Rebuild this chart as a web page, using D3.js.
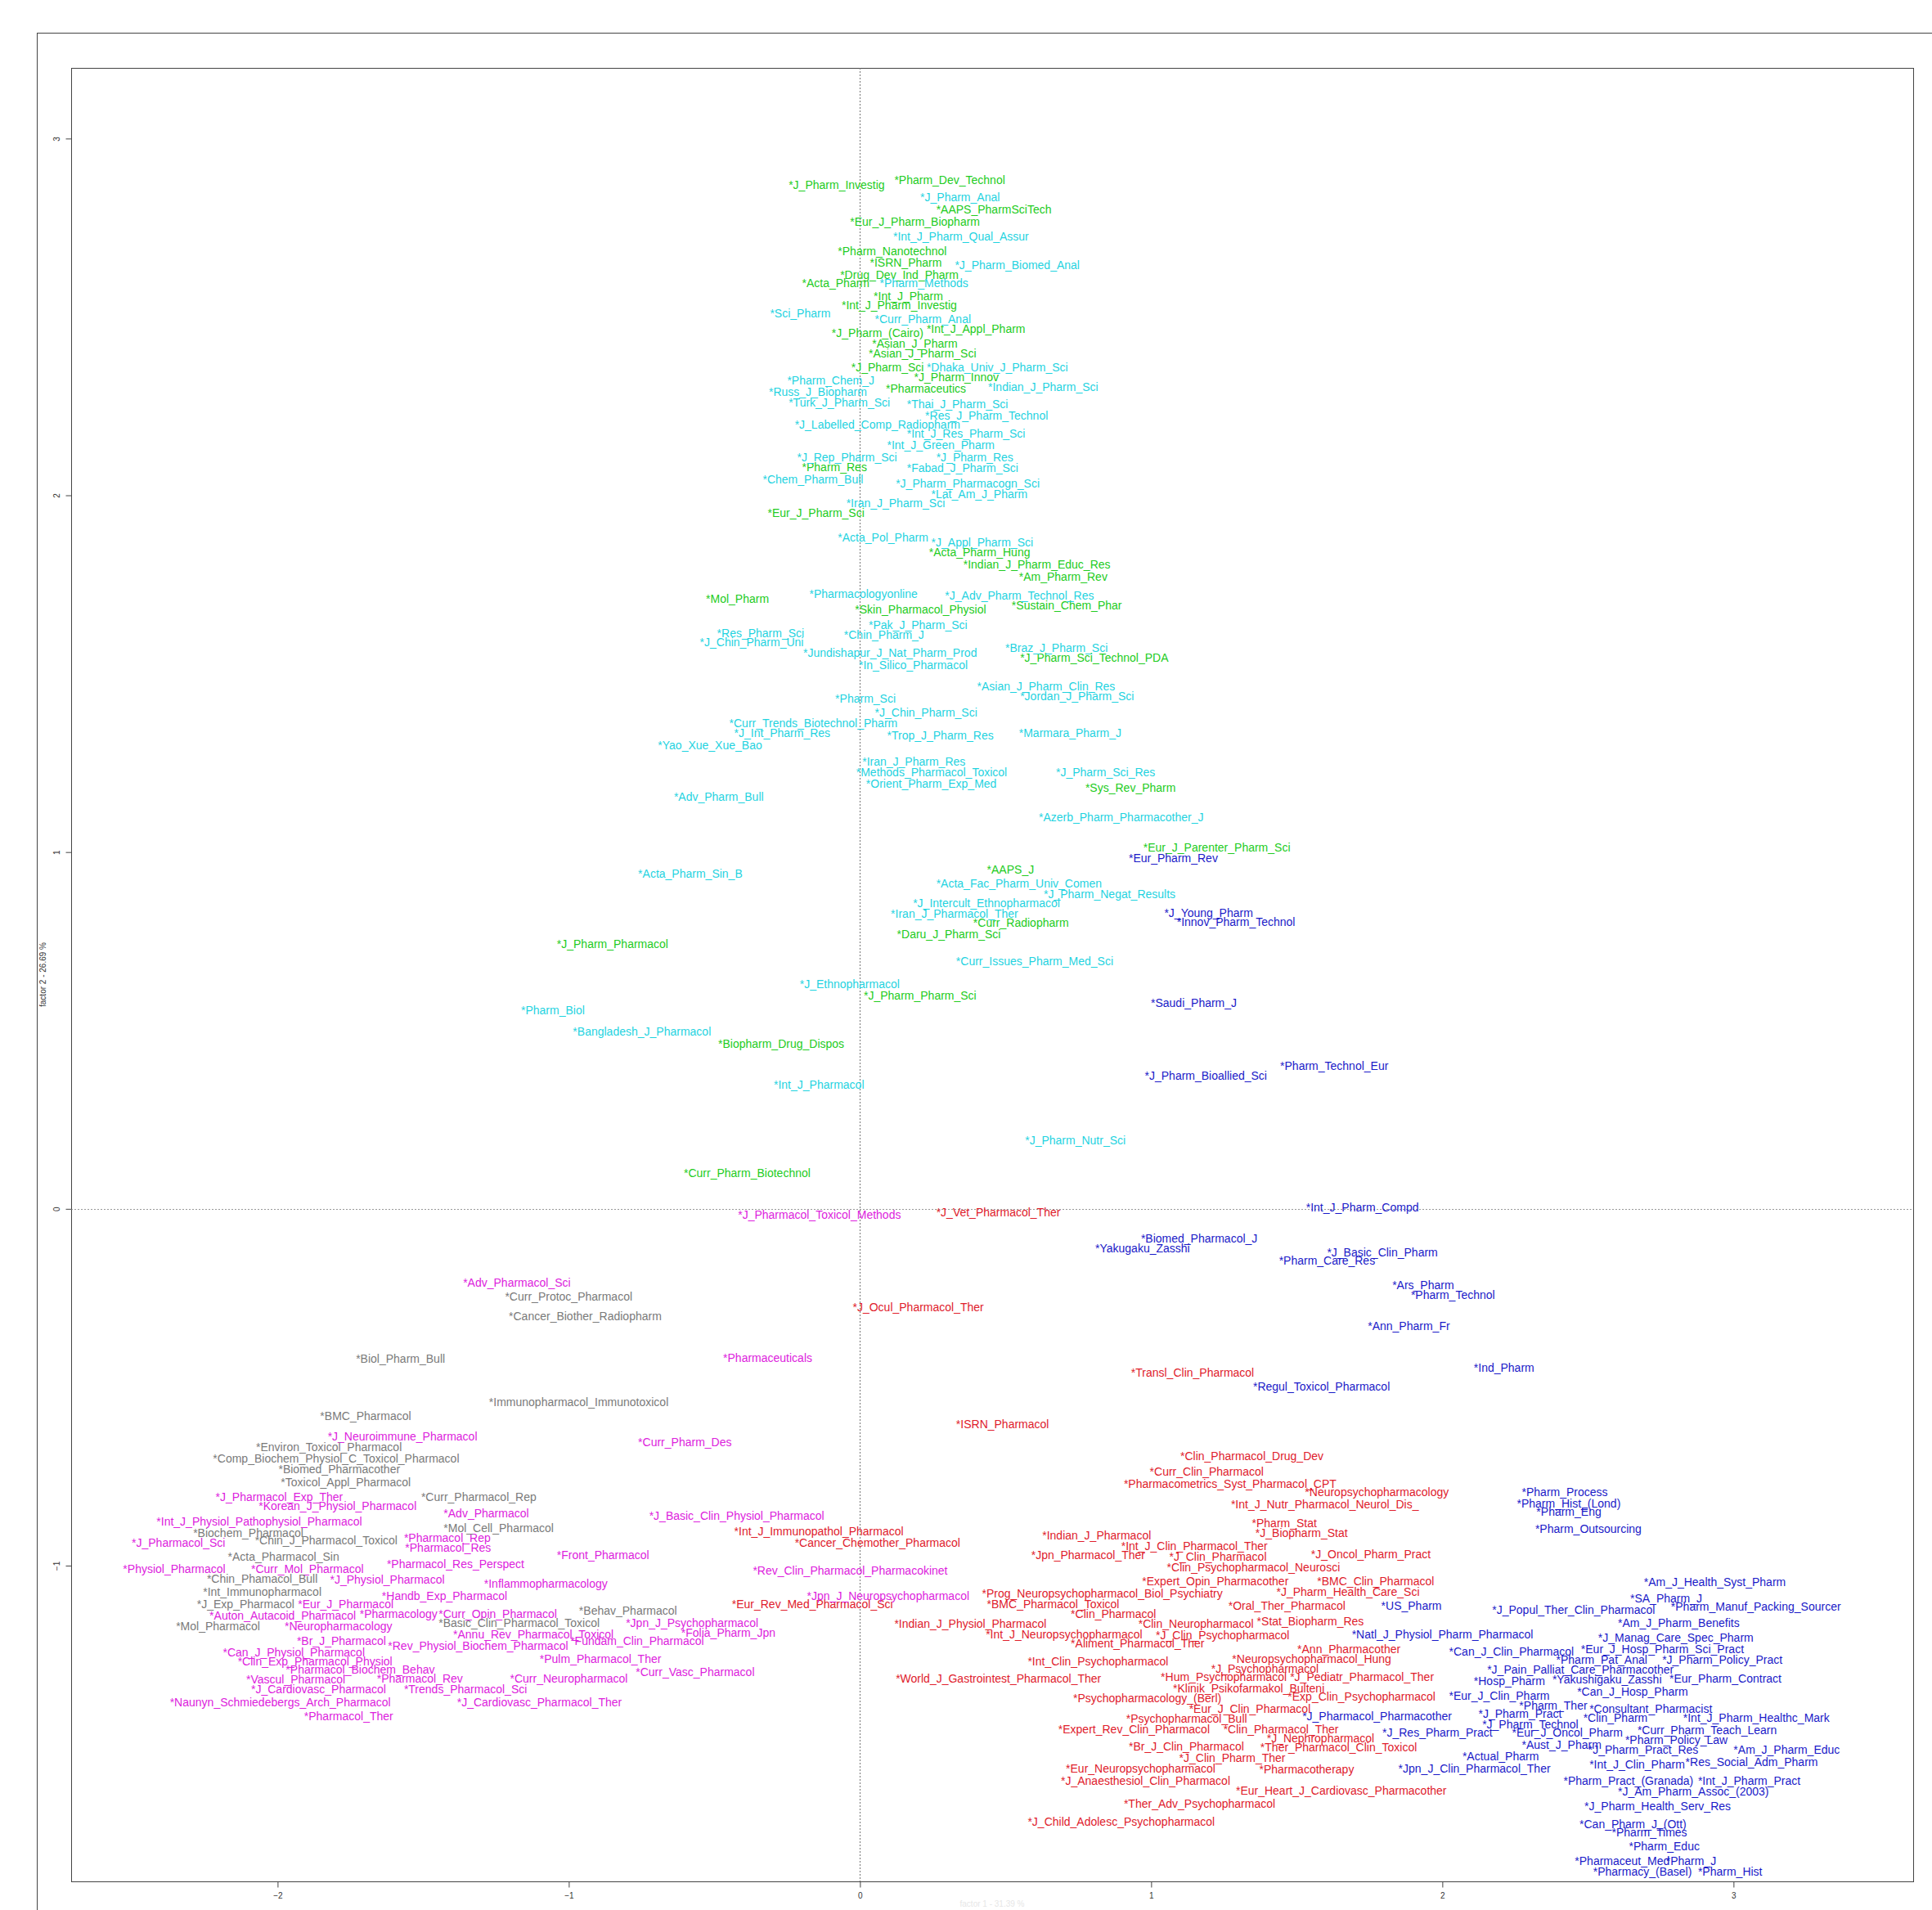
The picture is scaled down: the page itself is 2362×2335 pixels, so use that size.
<!DOCTYPE html>
<html><head><meta charset="utf-8">
<script src="https://cdn.jsdelivr.net/npm/d3@7"></script>
<style>body{margin:0;background:#fff} svg{display:block}</style>
</head><body>
<script>
// [label, factor1, factor2]
const greenJournals = [
["J_Pharm_Investig",-0.245,2.870],["Pharm_Dev_Technol",0.118,2.884],["AAPS_PharmSciTech",0.262,2.801],
["Eur_J_Pharm_Biopharm",-0.034,2.767],["Pharm_Nanotechnol",-0.076,2.684],["ISRN_Pharm",0.034,2.653],
["Drug_Dev_Ind_Pharm",-0.068,2.618],["Acta_Pharm",-0.199,2.594],["Int_J_Pharm",0.047,2.559],
["Int_J_Pharm_Investig",-0.063,2.532],["J_Pharm_(Cairo)",-0.097,2.456],["Int_J_Appl_Pharm",0.229,2.466],
["Asian_J_Pharm",0.042,2.425],["Asian_J_Pharm_Sci",0.030,2.397],["J_Pharm_Sci",-0.030,2.359],
["J_Pharm_Innov",0.186,2.331],["Pharmaceutics",0.089,2.300],["Pharm_Res",-0.199,2.079],
["Eur_J_Pharm_Sci",-0.317,1.951],["Acta_Pharm_Hung",0.237,1.841],["Indian_J_Pharm_Educ_Res",0.355,1.806],
["Am_Pharm_Rev",0.546,1.772],["Mol_Pharm",-0.529,1.710],["Sustain_Chem_Phar",0.521,1.692],
["Skin_Pharmacol_Physiol",-0.017,1.679],["J_Pharm_Sci_Technol_PDA",0.550,1.544],["Sys_Rev_Pharm",0.774,1.181],
["Eur_J_Parenter_Pharm_Sci",0.973,1.012],["AAPS_J",0.436,0.950],["Curr_Radiopharm",0.389,0.801],
["Daru_J_Pharm_Sci",0.127,0.770],["J_Pharm_Pharmacol",-1.041,0.743],["J_Pharm_Pharm_Sci",0.013,0.598],
["Biopharm_Drug_Dispos",-0.487,0.463],["Curr_Pharm_Biotechnol",-0.605,0.100]
];
const cyanJournals = [
["J_Pharm_Anal",0.207,2.836],["Int_J_Pharm_Qual_Assur",0.114,2.725],["J_Pharm_Biomed_Anal",0.326,2.646],
["Pharm_Methods",0.068,2.594],["Sci_Pharm",-0.309,2.511],["Curr_Pharm_Anal",0.051,2.494],
["Dhaka_Univ_J_Pharm_Sci",0.229,2.359],["Pharm_Chem_J",-0.250,2.321],["Russ_J_Biopharm",-0.313,2.290],
["Indian_J_Pharm_Sci",0.440,2.304],["Turk_J_Pharm_Sci",-0.245,2.259],["Thai_J_Pharm_Sci",0.161,2.255],
["Res_J_Pharm_Technol",0.224,2.224],["J_Labelled_Comp_Radiopharm",-0.224,2.197],["Int_J_Res_Pharm_Sci",0.161,2.173],
["Int_J_Green_Pharm",0.093,2.141],["J_Rep_Pharm_Sci",-0.216,2.107],["J_Pharm_Res",0.262,2.107],
["Fabad_J_Pharm_Sci",0.161,2.076],["Chem_Pharm_Bull",-0.334,2.045],["J_Pharm_Pharmacogn_Sci",0.123,2.034],
["Lat_Am_J_Pharm",0.245,2.003],["Iran_J_Pharm_Sci",-0.047,1.979],["Acta_Pol_Pharm",-0.076,1.882],
["J_Appl_Pharm_Sci",0.245,1.869],["Pharmacologyonline",-0.174,1.724],["J_Adv_Pharm_Technol_Res",0.292,1.720],
["Pak_J_Pharm_Sci",0.030,1.637],["Res_Pharm_Sci",-0.491,1.613],["Chin_Pharm_J",-0.055,1.610],
["J_Chin_Pharm_Uni",-0.550,1.589],["Braz_J_Pharm_Sci",0.499,1.572],["Jundishapur_J_Nat_Pharm_Prod",-0.195,1.558],
["In_Silico_Pharmacol",-0.004,1.523],["Asian_J_Pharm_Clin_Res",0.402,1.464],["Jordan_J_Pharm_Sci",0.550,1.437],
["Pharm_Sci",-0.085,1.430],["J_Chin_Pharm_Sci",0.051,1.392],["Curr_Trends_Biotechnol_Pharm",-0.449,1.361],
["J_Int_Pharm_Res",-0.432,1.333],["Trop_J_Pharm_Res",0.093,1.326],["Marmara_Pharm_J",0.546,1.333],
["Yao_Xue_Xue_Bao",-0.694,1.299],["Iran_J_Pharm_Res",0.008,1.254],["Methods_Pharmacol_Toxicol",-0.013,1.223],
["J_Pharm_Sci_Res",0.673,1.223],["Orient_Pharm_Exp_Med",0.021,1.192],["Adv_Pharm_Bull",-0.639,1.154],
["Azerb_Pharm_Pharmacother_J",0.614,1.098],["Acta_Pharm_Sin_B",-0.762,0.939],["Acta_Fac_Pharm_Univ_Comen",0.262,0.912],
["J_Pharm_Negat_Results",0.631,0.881],["J_Intercult_Ethnopharmacol",0.182,0.857],["Iran_J_Pharmacol_Ther",0.106,0.826],
["Curr_Issues_Pharm_Med_Sci",0.330,0.694],["J_Ethnopharmacol",-0.207,0.629],["Pharm_Biol",-1.164,0.556],
["Bangladesh_J_Pharmacol",-0.986,0.497],["Int_J_Pharmacol",-0.296,0.349],["J_Pharm_Nutr_Sci",0.567,0.193]
];
const blueJournals = [
["Eur_Pharm_Rev",0.923,0.984],["J_Young_Pharm",1.045,0.829],["Innov_Pharm_Technol",1.088,0.805],
["Saudi_Pharm_J",0.999,0.577],["Pharm_Technol_Eur",1.443,0.401],["J_Pharm_Bioallied_Sci",0.978,0.373],
["Int_J_Pharm_Compd",1.532,0.003],["Biomed_Pharmacol_J",0.965,-0.083],["Yakugaku_Zasshi",0.808,-0.111],
["J_Basic_Clin_Pharm",1.604,-0.121],["Pharm_Care_Res",1.439,-0.145],["Ars_Pharm",1.828,-0.214],
["Pharm_Technol",1.892,-0.242],["Ann_Pharm_Fr",1.744,-0.328],["Ind_Pharm",2.108,-0.446],
["Regul_Toxicol_Pharmacol",1.350,-0.497],["Pharm_Process",2.273,-0.794],["Pharm_Hist_(Lond)",2.256,-0.826],
["Pharm_Eng",2.323,-0.850],["Pharm_Outsourcing",2.319,-0.898],["Am_J_Health_Syst_Pharm",2.692,-1.047],
["SA_Pharm_J",2.645,-1.091],["US_Pharm",1.790,-1.112],["J_Popul_Ther_Clin_Pharmacol",2.171,-1.123],
["Pharm_Manuf_Packing_Sourcer",2.785,-1.116],["Am_J_Pharm_Benefits",2.603,-1.161],["Natl_J_Physiol_Pharm_Pharmacol",1.689,-1.192],
["J_Manag_Care_Spec_Pharm",2.535,-1.202],["Can_J_Clin_Pharmacol",2.023,-1.240],["Eur_J_Hosp_Pharm_Sci_Pract",2.476,-1.233],
["Pharm_Pat_Anal",2.391,-1.264],["J_Pharm_Policy_Pract",2.755,-1.264],["J_Pain_Palliat_Care_Pharmacother",2.154,-1.292],
["Hosp_Pharm",2.108,-1.323],["Yakushigaku_Zasshi",2.378,-1.319],["Eur_Pharm_Contract",2.780,-1.316],
["Can_J_Hosp_Pharm",2.463,-1.354],["Eur_J_Clin_Pharm",2.023,-1.364],["Pharm_Ther",2.264,-1.392],
["Consultant_Pharmacist",2.505,-1.402],["J_Pharmacol_Pharmacother",1.519,-1.423],["J_Pharm_Pract",2.124,-1.416],
["Clin_Pharm",2.484,-1.427],["Int_J_Pharm_Healthc_Mark",2.827,-1.427],["J_Pharm_Technol",2.137,-1.444],
["J_Res_Pharm_Pract",1.794,-1.468],["Eur_J_Oncol_Pharm",2.239,-1.468],["Curr_Pharm_Teach_Learn",2.670,-1.461],
["Pharm_Policy_Law",2.628,-1.489],["Aust_J_Pharm",2.273,-1.502],["J_Pharm_Pract_Res",2.501,-1.516],
["Am_J_Pharm_Educ",3.000,-1.516],["Actual_Pharm",2.069,-1.534],["Int_J_Clin_Pharm",2.505,-1.558],
["Res_Social_Adm_Pharm",2.835,-1.551],["Jpn_J_Clin_Pharmacol_Ther",1.849,-1.568],["Pharm_Pract_(Granada)",2.416,-1.603],
["Int_J_Pharm_Pract",2.878,-1.603],["J_Am_Pharm_Assoc_(2003)",2.603,-1.634],["J_Pharm_Health_Serv_Res",2.488,-1.675],
["Can_Pharm_J_(Ott)",2.471,-1.724],["Pharm_Times",2.582,-1.748],["Pharm_Educ",2.641,-1.786],
["Pharmaceut_Med",2.455,-1.827],["Pharm_J",2.768,-1.827],["Pharmacy_(Basel)",2.518,-1.858],["Pharm_Hist",2.878,-1.858]
];
const redJournals = [
["J_Vet_Pharmacol_Ther",0.262,-0.010],["J_Ocul_Pharmacol_Ther",-0.025,-0.276],["Transl_Clin_Pharmacol",0.931,-0.459],
["ISRN_Pharmacol",0.330,-0.604],["Clin_Pharmacol_Drug_Dev",1.100,-0.694],["Curr_Clin_Pharmacol",0.995,-0.736],
["Pharmacometrics_Syst_Pharmacol_CPT",0.906,-0.770],["Neuropsychopharmacology",1.528,-0.794],["Int_J_Nutr_Pharmacol_Neurol_Dis_",1.274,-0.829],
["Pharm_Stat",1.346,-0.881],["Int_J_Immunopathol_Pharmacol",-0.432,-0.905],["J_Biopharm_Stat",1.358,-0.908],
["Indian_J_Pharmacol",0.626,-0.915],["Cancer_Chemother_Pharmacol",-0.224,-0.936],["Int_J_Clin_Pharmacol_Ther",0.897,-0.946],
["Jpn_Pharmacol_Ther",0.588,-0.971],["J_Clin_Pharmacol",1.062,-0.974],["J_Oncol_Pharm_Pract",1.549,-0.967],
["Clin_Psychopharmacol_Neurosci",1.054,-1.005],["Expert_Opin_Pharmacother",0.969,-1.043],["BMC_Clin_Pharmacol",1.570,-1.043],
["Prog_Neuropsychopharmacol_Biol_Psychiatry",0.419,-1.078],["J_Pharm_Health_Care_Sci",1.430,-1.074],["BMC_Pharmacol_Toxicol",0.436,-1.109],
["Eur_Rev_Med_Pharmacol_Sci",-0.440,-1.109],["Oral_Ther_Pharmacol",1.265,-1.112],["Clin_Pharmacol",0.724,-1.136],
["Indian_J_Physiol_Pharmacol",0.118,-1.164],["Clin_Neuropharmacol",0.956,-1.164],["Stat_Biopharm_Res",1.363,-1.157],
["Int_J_Neuropsychopharmacol",0.432,-1.192],["J_Clin_Psychopharmacol",1.016,-1.195],["Aliment_Pharmacol_Ther",0.724,-1.219],
["Ann_Pharmacother",1.502,-1.233],["Int_Clin_Psychopharmacol",0.576,-1.268],["Neuropsychopharmacol_Hung",1.278,-1.261],
["J_Psychopharmacol",1.206,-1.288],["World_J_Gastrointest_Pharmacol_Ther",0.123,-1.316],["Hum_Psychopharmacol",1.033,-1.313],
["J_Pediatr_Pharmacol_Ther",1.477,-1.313],["Klinik_Psikofarmakol_Bulteni",1.075,-1.344],["Psychopharmacology_(Berl)",0.732,-1.371],
["Exp_Clin_Psychopharmacol",1.469,-1.368],["Eur_J_Clin_Pharmacol",1.130,-1.402],["Psychopharmacol_Bull",0.914,-1.430],
["Expert_Rev_Clin_Pharmacol",0.681,-1.458],["Clin_Pharmacol_Ther",1.248,-1.458],["J_Nephropharmacol",1.397,-1.485],
["Br_J_Clin_Pharmacol",0.923,-1.506],["Ther_Pharmacol_Clin_Toxicol",1.375,-1.509],["J_Clin_Pharm_Ther",1.096,-1.540],
["Eur_Neuropsychopharmacol",0.707,-1.568],["Pharmacotherapy",1.371,-1.572],["J_Anaesthesiol_Clin_Pharmacol",0.690,-1.603],
["Eur_Heart_J_Cardiovasc_Pharmacother",1.291,-1.630],["Ther_Adv_Psychopharmacol",0.906,-1.668],["J_Child_Adolesc_Psychopharmacol",0.576,-1.717]
];
const magentaJournals = [
["J_Pharmacol_Toxicol_Methods",-0.419,-0.017],["Adv_Pharmacol_Sci",-1.363,-0.207],["Pharmaceuticals",-0.470,-0.418],
["J_Neuroimmune_Pharmacol",-1.828,-0.639],["Curr_Pharm_Des",-0.762,-0.653],["J_Pharmacol_Exp_Ther",-2.213,-0.808],
["Korean_J_Physiol_Pharmacol",-2.065,-0.832],["Adv_Pharmacol",-1.430,-0.853],["J_Basic_Clin_Physiol_Pharmacol",-0.724,-0.860],
["Int_J_Physiol_Pathophysiol_Pharmacol",-2.416,-0.877],["Pharmacol_Rep",-1.566,-0.922],["J_Pharmacol_Sci",-2.501,-0.936],
["Pharmacol_Res",-1.562,-0.950],["Front_Pharmacol",-1.041,-0.971],["Pharmacol_Res_Perspect",-1.625,-0.995],
["Physiol_Pharmacol",-2.531,-1.009],["Curr_Mol_Pharmacol",-2.091,-1.009],["Rev_Clin_Pharmacol_Pharmacokinet",-0.368,-1.015],
["J_Physiol_Pharmacol",-1.820,-1.040],["Inflammopharmacology",-1.291,-1.050],["Handb_Exp_Pharmacol",-1.642,-1.085],
["Jpn_J_Neuropsychopharmacol",-0.182,-1.085],["Eur_J_Pharmacol",-1.930,-1.109],["Auton_Autacoid_Pharmacol",-2.234,-1.140],
["Pharmacology",-1.718,-1.136],["Curr_Opin_Pharmacol",-1.447,-1.136],["Jpn_J_Psychopharmacol",-0.804,-1.161],
["Neuropharmacology",-1.976,-1.171],["Annu_Rev_Pharmacol_Toxicol",-1.397,-1.192],["Folia_Pharm_Jpn",-0.614,-1.188],
["Br_J_Pharmacol",-1.934,-1.212],["Fundam_Clin_Pharmacol",-0.995,-1.212],["Rev_Physiol_Biochem_Pharmacol",-1.621,-1.226],
["Can_J_Physiol_Pharmacol",-2.188,-1.243],["Pulm_Pharmacol_Ther",-1.100,-1.261],["Clin_Exp_Pharmacol_Physiol",-2.137,-1.268],
["Pharmacol_Biochem_Behav",-1.972,-1.292],["Curr_Vasc_Pharmacol",-0.770,-1.299],["Vascul_Pharmacol",-2.108,-1.319],
["Pharmacol_Rev",-1.659,-1.316],["Curr_Neuropharmacol",-1.202,-1.316],["J_Cardiovasc_Pharmacol",-2.091,-1.347],
["Trends_Pharmacol_Sci",-1.566,-1.347],["Naunyn_Schmiedebergs_Arch_Pharmacol",-2.370,-1.382],["J_Cardiovasc_Pharmacol_Ther",-1.384,-1.382],
["Pharmacol_Ther",-1.909,-1.423]
];
const grayJournals = [
["Curr_Protoc_Pharmacol",-1.219,-0.245],["Cancer_Biother_Radiopharm",-1.206,-0.300],["Biol_Pharm_Bull",-1.731,-0.421],
["Immunopharmacol_Immunotoxicol",-1.274,-0.542],["BMC_Pharmacol",-1.854,-0.580],["Environ_Toxicol_Pharmacol",-2.074,-0.667],
["Comp_Biochem_Physiol_C_Toxicol_Pharmacol",-2.222,-0.701],["Biomed_Pharmacother",-1.997,-0.729],["Toxicol_Appl_Pharmacol",-1.989,-0.767],
["Curr_Pharmacol_Rep",-1.507,-0.808],["Mol_Cell_Pharmacol",-1.430,-0.895],["Biochem_Pharmacol",-2.290,-0.908],
["Chin_J_Pharmacol_Toxicol",-2.078,-0.929],["Acta_Pharmacol_Sin",-2.171,-0.974],["Chin_Phamacol_Bull",-2.243,-1.036],
["Int_Immunopharmacol",-2.256,-1.074],["J_Exp_Pharmacol",-2.277,-1.109],["Behav_Pharmacol",-0.965,-1.126],
["Basic_Clin_Pharmacol_Toxicol",-1.447,-1.161],["Mol_Pharmacol",-2.349,-1.171]
];
const xTicks = [-2,-1,0,1,2,3];
const yTicks = [-1,0,1,2,3];
const yTitle = "factor 2 - 26.69 %";
const xTitle = "factor 1 - 31.39 %";

const groups = [
  {data: greenJournals, color: "#22cc22"},
  {data: cyanJournals, color: "#1fd3df"},
  {data: blueJournals, color: "#1a1ac8"},
  {data: redJournals, color: "#e0202c"},
  {data: magentaJournals, color: "#dd22dd"},
  {data: grayJournals, color: "#7a7a7a"}
];

const W = 2362, H = 2335;
const P = {left: 87, right: 2339, top: 83, bottom: 2300};
const svg = d3.select("body").append("svg").attr("width", W).attr("height", H)
  .style("font-family", "'Liberation Sans', Arial, sans-serif");

const x = d3.scaleLinear().domain([-2.709, 3.617]).range([P.left, P.right]);
const y = d3.scaleLinear().domain([-1.885, 3.198]).range([P.bottom, P.top]);

// outer frame
svg.append("rect").attr("x", 45.5).attr("y", 40.5).attr("width", W).attr("height", H)
  .attr("fill", "none").attr("stroke", "#444").attr("stroke-width", 1);
// plot box
svg.append("rect").attr("x", P.left + 0.5).attr("y", P.top + 0.5)
  .attr("width", P.right - P.left).attr("height", P.bottom - P.top)
  .attr("fill", "none").attr("stroke", "#444").attr("stroke-width", 1);

// zero lines
svg.append("line").attr("x1", Math.round(x(0)) + 0.5).attr("x2", Math.round(x(0)) + 0.5)
  .attr("y1", P.top).attr("y2", P.bottom)
  .attr("stroke", "#777").attr("stroke-dasharray", "2,2").attr("stroke-width", 1);
svg.append("line").attr("y1", Math.round(y(0)) + 0.5).attr("y2", Math.round(y(0)) + 0.5)
  .attr("x1", P.left).attr("x2", P.right)
  .attr("stroke", "#999").attr("stroke-dasharray", "2,2").attr("stroke-width", 1);

// axes
const gx = svg.append("g").attr("transform", `translate(0,${P.bottom + 0.5})`)
  .call(d3.axisBottom(x).tickValues(xTicks).tickSize(7).tickPadding(6).tickFormat(d3.format("d")));
gx.select(".domain").remove();
gx.selectAll("line").attr("stroke", "#444");
gx.selectAll("text").attr("font-size", 10).attr("fill", "#333").style("font-family", "'Liberation Sans', Arial, sans-serif");

const gy = svg.append("g").attr("transform", `translate(${P.left + 0.5},0)`)
  .call(d3.axisLeft(y).tickValues(yTicks).tickSize(7).tickFormat(d3.format("d")));
gy.select(".domain").remove();
gy.selectAll("line").attr("stroke", "#444");
gy.selectAll("text").attr("font-size", 10).attr("fill", "#333")
  .attr("x", 0).attr("dy", 0).attr("text-anchor", "middle")
  .attr("transform", "translate(-15,0) rotate(-90)")
  .style("font-family", "'Liberation Sans', Arial, sans-serif");

// axis titles
svg.append("text").attr("transform", `translate(56,${(P.top + P.bottom) / 2}) rotate(-90)`)
  .attr("text-anchor", "middle").attr("font-size", 10).attr("fill", "#333").text(yTitle);
svg.append("text").attr("x", (P.left + P.right) / 2).attr("y", 2331)
  .attr("text-anchor", "middle").attr("font-size", 10).attr("fill", "#e6e6e6").text(xTitle);

// labels
groups.forEach(g => {
  svg.append("g").selectAll("text").data(g.data).join("text")
    .attr("x", d => x(d[1])).attr("y", d => y(d[2]))
    .attr("dy", "0.35em")
    .attr("font-size", 14).attr("fill", g.color)
    .text(d => "*" + d[0]);
});
</script>
</body></html>
